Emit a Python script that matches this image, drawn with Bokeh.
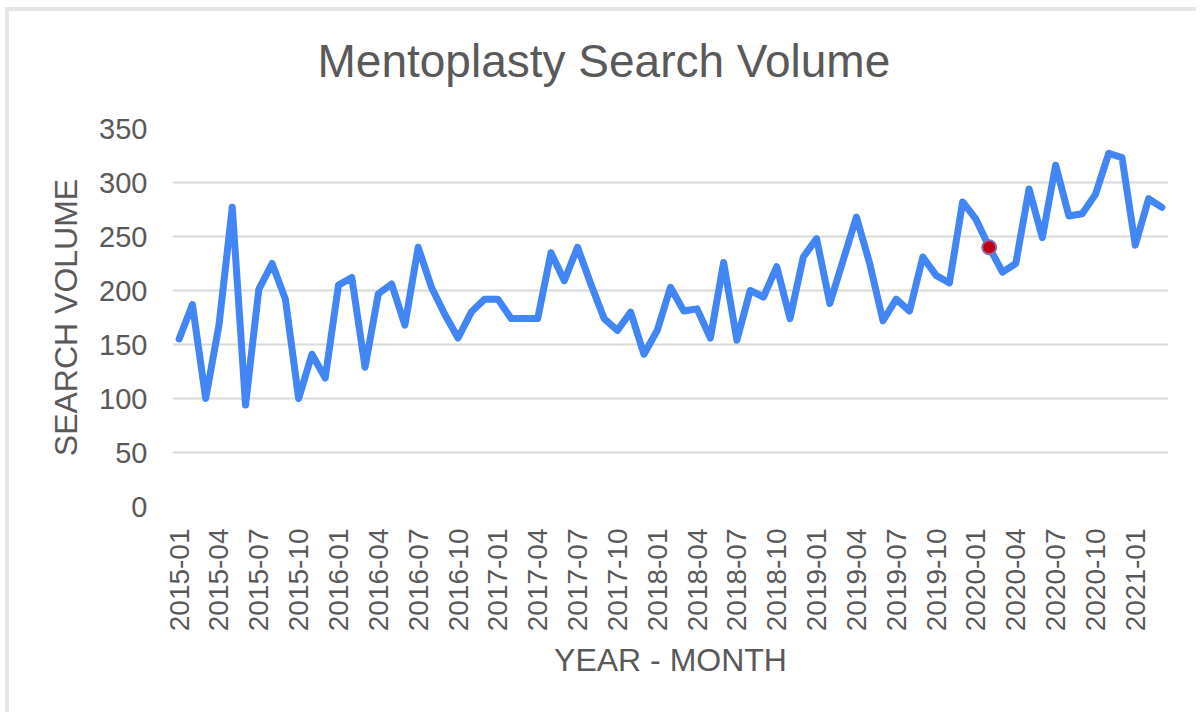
import math
from bokeh.plotting import figure
from bokeh.models import Range1d, FixedTicker, Title
from bokeh.embed import file_html
from bokeh.resources import INLINE

# ---- data ----
start_year = 2015
n_months = 75
months = [f"{start_year + i // 12}-{i % 12 + 1:02d}" for i in range(n_months)]
volume = [155, 187, 100, 168, 277, 94, 201, 225, 192, 100,
          141, 119, 205, 212, 129, 197, 206, 168, 240, 203,
          178, 156, 180, 192, 192, 174, 174, 174, 235, 209,
          240, 206, 174, 163, 180, 141, 163, 203, 181, 183,
          156, 226, 154, 200, 194, 222, 174, 231, 248, 188,
          228, 268, 225, 172, 192, 181, 231, 214, 207, 282,
          266, 240, 217, 225, 294, 249, 316, 269, 271, 289,
          327, 323, 242, 285, 277]
highlight_month = "2020-02"
y_ticks = [0, 50, 100, 150, 200, 250, 300, 350]
shown_month_suffixes = ["01", "04", "07", "10"]
title_text = "Mentoplasty Search Volume"

TXT = "#595959"
FONT = "Liberation Sans"

idx = list(range(len(months)))

p = figure(
    width=1191, height=705,
    x_range=Range1d(-0.5, len(months) - 0.5),
    y_range=Range1d(0, 350),
    output_backend="svg", toolbar_location=None,
    min_border_left=163, min_border_right=32,
    min_border_top=117, min_border_bottom=210,
)
p.styles = {"border-top": "4px solid #e6e6e6", "border-left": "4px solid #e6e6e6",
            "margin-top": "7px", "margin-left": "5px"}

p.title.text = title_text
p.title.text_font = FONT
p.title.text_font_size = "46px"
p.title.text_font_style = "normal"
p.title.text_color = TXT
p.title.align = "left"
p.title.vertical_align = "top"
p.title.offset = 145
p.title.standoff = 0

# spacer between title and plot frame
p.add_layout(Title(text=" ", text_font_size="2px", standoff=36), "above")

p.outline_line_color = None
p.background_fill_color = "white"
p.border_fill_color = "white"

p.xgrid.grid_line_color = None
p.ygrid.grid_line_color = "#d9d9d9"
p.ygrid.grid_line_width = 2

p.yaxis.ticker = FixedTicker(ticks=y_ticks)
tick_idx = [i for i, m in enumerate(months) if m[-2:] in shown_month_suffixes]
p.xaxis.ticker = FixedTicker(ticks=tick_idx)
p.xaxis.major_label_overrides = {i: months[i] for i in tick_idx}

for ax in (p.xaxis[0], p.yaxis[0]):
    ax.axis_line_color = None
    ax.major_tick_line_color = None
    ax.minor_tick_line_color = None
    ax.major_tick_out = 0
    ax.major_tick_in = 0
    ax.minor_tick_out = 0
    ax.major_label_text_color = TXT
    ax.major_label_text_font = FONT
    ax.axis_label_text_color = TXT
    ax.axis_label_text_font = FONT
    ax.axis_label_text_font_style = "normal"
    ax.axis_label_text_font_size = "32px"

p.yaxis.major_label_text_font_size = "29px"
p.yaxis.major_label_standoff = 25
p.yaxis.axis_label = "SEARCH VOLUME"
p.yaxis.axis_label_standoff = 12

p.xaxis.major_label_text_font_size = "28px"
p.xaxis.major_label_orientation = math.pi / 2
p.xaxis.major_label_standoff = 22
p.xaxis.axis_label = "YEAR - MONTH"
p.xaxis.axis_label_standoff = 8

p.line(idx, volume, line_color="#4285f4", line_width=7, line_join="round", line_cap="round")

hi = months.index(highlight_month)
p.scatter([idx[hi]], [volume[hi]], size=14, fill_color="#c00010",
          line_color="#8c6bb0", line_width=2)

open("out.html", "w").write(file_html(p, INLINE))
